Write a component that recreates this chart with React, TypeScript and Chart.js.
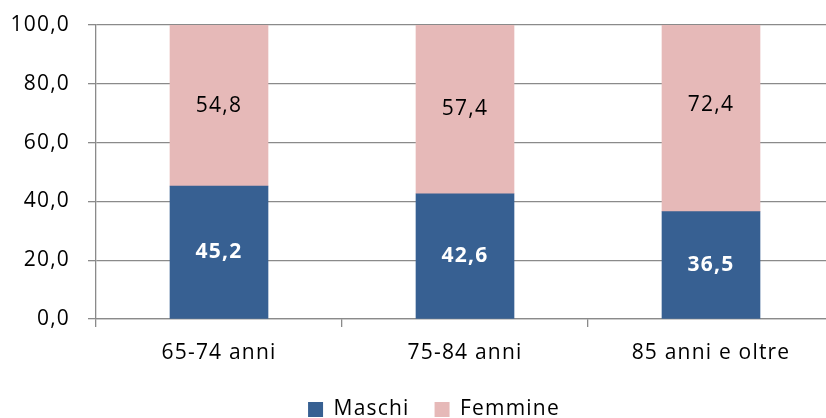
import React, { useEffect, useRef } from "react";
import { Chart, registerables } from "chart.js";

Chart.register(...registerables);

const categories = ["65-74 anni", "75-84 anni", "85 anni e oltre"];
const maschi = [45.2, 42.6, 36.5];
const femmine = [54.8, 57.4, 72.4];
const yTicks = [0, 20, 40, 60, 80, 100];

const FONT = "'Open Sans', 'Noto Sans', sans-serif";
const SPACING = "1.2px";

const fmt = (v: number) => v.toFixed(1).replace(".", ",");

const spacingPlugin = {
  id: "spacing",
  beforeUpdate(chart: any) {
    chart.ctx.letterSpacing = SPACING;
  },
  afterLayout(chart: any) {
    const lg = chart.legend;
    if (lg) {
      lg.left += 17;
      lg.right += 17;
    }
  },
  beforeDraw(chart: any) {
    chart.ctx.letterSpacing = SPACING;
  },
};

const labelPlugin = {
  id: "barLabels",
  afterDatasetsDraw(chart: any) {
    const ctx = chart.ctx;
    ctx.save();
    chart.data.datasets.forEach((ds: any, di: number) => {
      const meta = chart.getDatasetMeta(di);
      meta.data.forEach((bar: any, i: number) => {
        const p = bar.getCenterPoint();
        ctx.font = di === 0 ? `bold 21px ${FONT}` : `21px ${FONT}`;
        ctx.fillStyle = di === 0 ? "#ffffff" : "#000000";
        ctx.textAlign = "center";
        ctx.textBaseline = "middle";
        ctx.fillText(fmt(ds.data[i]), p.x, p.y);
      });
    });
    ctx.restore();
  },
};

export default function App() {
  const ref = useRef<HTMLCanvasElement>(null);
  useEffect(() => {
    if (!ref.current) return;
    const chart = new Chart(ref.current, {
      type: "bar",
      data: {
        labels: categories,
        datasets: [
          { label: "Maschi", data: maschi, backgroundColor: "#376092", barThickness: 98 },
          { label: "Femmine", data: femmine, backgroundColor: "#E6B9B8", barThickness: 98 },
        ],
      },
      options: {
        responsive: false,
        animation: false,
        devicePixelRatio: 1,
        layout: { padding: { top: 25, right: 32, bottom: 0, left: 0 } },
        plugins: {
          tooltip: { enabled: false },
          legend: {
            position: "bottom",
            labels: {
              boxWidth: 15,
              boxHeight: 15,
              padding: 25,
              color: "#000",
              font: { family: FONT, size: 21 },
            },
          },
        },
        scales: {
          x: {
            stacked: true,
            afterFit: (s: any) => {
              s.height = 55;
              s.paddingLeft = 0;
              s.paddingRight = 0;
            },
            grid: {
              offset: true,
              drawOnChartArea: false,
              drawTicks: true,
              tickLength: 8,
              color: "#8a8a8a",
              lineWidth: 1.3,
            },
            border: { color: "#8a8a8a", width: 1.3 },
            ticks: { color: "#000", font: { family: FONT, size: 21 }, padding: 13 },
          },
          y: {
            stacked: true,
            min: 0,
            max: 100,
            afterBuildTicks: (s: any) => {
              s.ticks = yTicks.map((v) => ({ value: v }));
            },
            afterFit: (s: any) => {
              s.width = 96;
              s.paddingTop = 0;
              s.paddingBottom = 0;
            },
            grid: { color: "#8a8a8a", lineWidth: 1.3, tickLength: 8 },
            border: { color: "#8a8a8a", width: 1.3 },
            ticks: {
              color: "#000",
              font: { family: FONT, size: 21 },
              padding: 18,
              callback: (v: any) => fmt(Number(v)),
            },
          },
        },
      },
      plugins: [spacingPlugin, labelPlugin],
    });
    return () => chart.destroy();
  }, []);
  return (
    <div
      style={{
        position: "fixed",
        left: 0,
        top: 0,
        width: 826,
        height: 418,
        overflow: "hidden",
        background: "#fff",
      }}
    >
      <canvas ref={ref} width={866} height={430} />
    </div>
  );
}
